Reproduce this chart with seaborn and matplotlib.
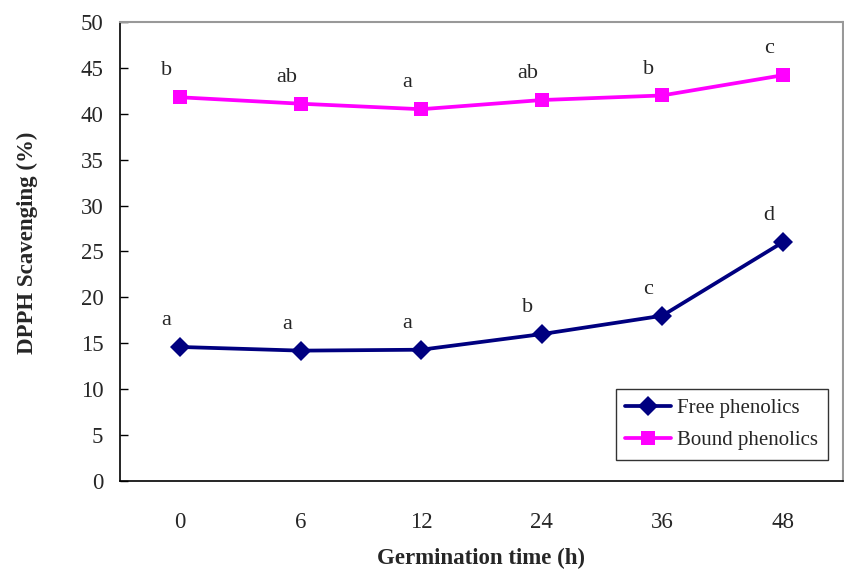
import matplotlib
matplotlib.use("Agg")
import matplotlib.pyplot as plt
import seaborn as sns
import pandas as pd
import numpy as np

times = ["0", "6", "12", "24", "36", "48"]
free_vals = [14.6, 14.2, 14.3, 16.0, 18.0, 26.0]
bound_vals = [41.8, 41.1, 40.5, 41.5, 42.0, 44.2]
free_letters = ["a", "a", "a", "b", "c", "d"]
bound_letters = ["b", "ab", "a", "ab", "b", "c"]

sns.set_theme(style="white")
plt.rcParams['font.family'] = ['Liberation Serif', 'DejaVu Serif']

fig = plt.figure(figsize=(8.45, 5.69), dpi=100)
ax = fig.add_axes([0.142, 0.1547, 0.8555, 0.8066])

pos = np.arange(len(times))
df = pd.DataFrame({"pos": np.concatenate([pos, pos]),
                   "val": free_vals + bound_vals,
                   "series": ["Free phenolics"] * len(times) + ["Bound phenolics"] * len(times)})

sns.lineplot(data=df, x="pos", y="val", hue="series", style="series",
             palette={"Free phenolics": "#000080", "Bound phenolics": "#FF00FF"},
             markers={"Free phenolics": "D", "Bound phenolics": "s"},
             dashes=False, markersize=10, linewidth=2.7, markeredgewidth=0,
             ax=ax, legend=True)

for i in range(len(times)):
    ax.annotate(free_letters[i], (pos[i], free_vals[i]), xytext=(-10, 19),
                textcoords="offset points", ha="center", va="center", fontsize=16)
    ax.annotate(bound_letters[i], (pos[i], bound_vals[i]), xytext=(-10, 19),
                textcoords="offset points", ha="center", va="center", fontsize=16)

ax.set_xlim(-0.5, 5.5)
ax.set_ylim(0, 50)
ax.set_yticks(np.arange(0, 51, 5))
ax.set_xticks(pos)
ax.set_xticklabels(times)
ax.set_xticks(np.arange(-0.5, 5.6, 1), minor=True)
ax.tick_params(axis="x", which="major", length=0, labelsize=16.5, pad=22)
ax.tick_params(axis="x", which="minor", direction="in", length=6, width=1, color="black")
ax.tick_params(axis="y", direction="in", length=6, width=1, color="black", labelsize=16.5, left=True, pad=12)

ax.set_xlabel("Germination time (h)", fontsize=16.5, fontweight="bold")
ax.set_ylabel("DPPH Scavenging (%)", fontsize=16.5, fontweight="bold")
ax.xaxis.set_label_coords(0.5, -0.146)
ax.yaxis.set_label_coords(-0.113, 0.52)

for s in ["left", "bottom"]:
    ax.spines[s].set_color("black")
    ax.spines[s].set_linewidth(1.2)
for s in ["top", "right"]:
    ax.spines[s].set_color("#999999")
    ax.spines[s].set_linewidth(1.5)

leg = ax.legend(loc="lower right", bbox_to_anchor=(0.979, 0.046), borderaxespad=0,
                fontsize=15, frameon=True, fancybox=False, edgecolor="black",
                borderpad=0.45, handlelength=2.2, labelspacing=0.6, handletextpad=0.3)
leg.get_frame().set_linewidth(1.0)

fig.savefig("out.png", dpi=100)
